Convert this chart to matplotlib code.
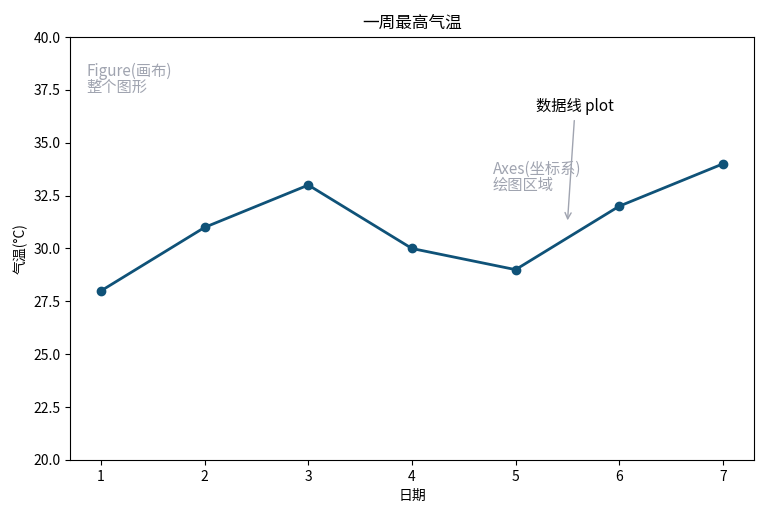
import matplotlib.pyplot as plt

plt.rcParams['font.family'] = ['Noto Sans CJK SC', 'DejaVu Sans']

days = [1, 2, 3, 4, 5, 6, 7]
temps = [28, 31, 33, 30, 29, 32, 34]
yticks = [20.0, 22.5, 25.0, 27.5, 30.0, 32.5, 35.0, 37.5, 40.0]

fig = plt.figure(figsize=(7.65, 5.19), dpi=100)
ax = fig.add_axes([0.0915, 0.1137, 0.894, 0.815])
ax.plot(days, temps, color='#0f5278', linewidth=2, marker='o', markersize=6)
ax.set_ylim(20, 40)
ax.set_xlim(0.7, 7.3)
ax.set_yticks(yticks)
ax.set_title('一周最高气温', fontsize=12)
ax.set_xlabel('日期')
ax.set_ylabel('气温(°C)')

gray = '#a0a4b0'
fig.text(86 / 765, 1 - 92 / 519, 'Figure(画布)\n整个图形', color=gray, fontsize=11,
         linespacing=0.9)
ax.text(4.78, 32.8, 'Axes(坐标系)\n绘图区域', color=gray, fontsize=11, linespacing=0.9)
ax.annotate('数据线 plot', xy=(5.5, 31.2), xytext=(5.2, 36.5), fontsize=11,
            arrowprops=dict(arrowstyle='->', color=gray))

fig.savefig('out.png', dpi=100)
